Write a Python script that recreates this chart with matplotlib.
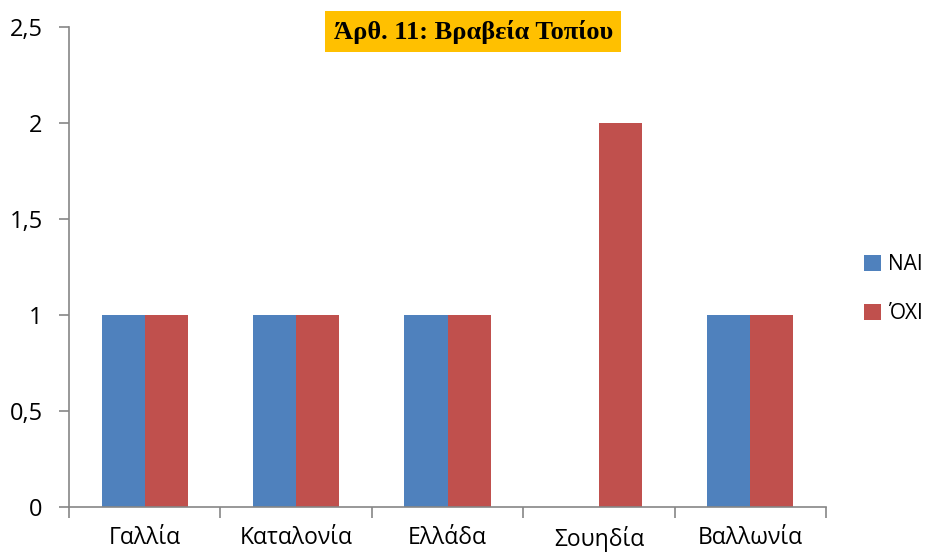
import numpy as np
import matplotlib
matplotlib.use('Agg')
import matplotlib.pyplot as plt

# data
categories = ['Γαλλία', 'Καταλονία', 'Ελλάδα', 'Σουηδία', 'Βαλλωνία']
nai = [1, 1, 1, 0, 1]
oxi = [1, 1, 1, 2, 1]
yticks = [0, 0.5, 1, 1.5, 2, 2.5]
ytick_labels = ['0', '0,5', '1', '1,5', '2', '2,5']

BLUE = '#4F81BD'
RED = '#C0504D'
GRID = '#868686'

plt.rcParams['font.family'] = ['Open Sans', 'DejaVu Sans']

fig = plt.figure(figsize=(9.28, 5.52), dpi=100)
ax = fig.add_axes([0.0744, 0.0815, 0.8157, 0.8696])

x = np.arange(len(categories))
w = 0.285
ax.bar(x - w / 2, nai, w, color=BLUE, label='NAI')
ax.bar(x + w / 2, oxi, w, color=RED, label='ΌΧΙ')

ax.set_xlim(-0.5, len(categories) - 0.5)
ax.set_ylim(0, 2.5)
ax.set_yticks(yticks)
ax.set_yticklabels(ytick_labels)

ax.set_xticks(x)
ax.set_xticklabels(categories)
ax.set_xticks(np.arange(-0.5, len(categories), 1.0), minor=True)
ax.tick_params(axis='x', which='major', length=0, pad=14, labelsize=16.5)
ax.tick_params(axis='x', which='minor', length=8, color=GRID, width=1.2)
ax.tick_params(axis='y', length=7, color=GRID, width=1.2, labelsize=17, pad=12)

for s in ['top', 'right']:
    ax.spines[s].set_visible(False)
for s in ['left', 'bottom']:
    ax.spines[s].set_color(GRID)
    ax.spines[s].set_linewidth(1.2)

ax.text(0.534, 0.99, 'Άρθ. 11: Βραβεία Τοπίου', transform=ax.transAxes,
        ha='center', va='center', fontsize=19, fontweight='bold',
        family=['Liberation Serif', 'DejaVu Serif'],
        bbox=dict(facecolor='#FFC000', edgecolor='none', pad=6))

leg = ax.legend(loc='center left', bbox_to_anchor=(1.026, 0.454), frameon=False,
                fontsize=15, handlelength=0.8, handleheight=0.8,
                handletextpad=0.35, labelspacing=1.35)

fig.savefig('out.png', dpi=100)
